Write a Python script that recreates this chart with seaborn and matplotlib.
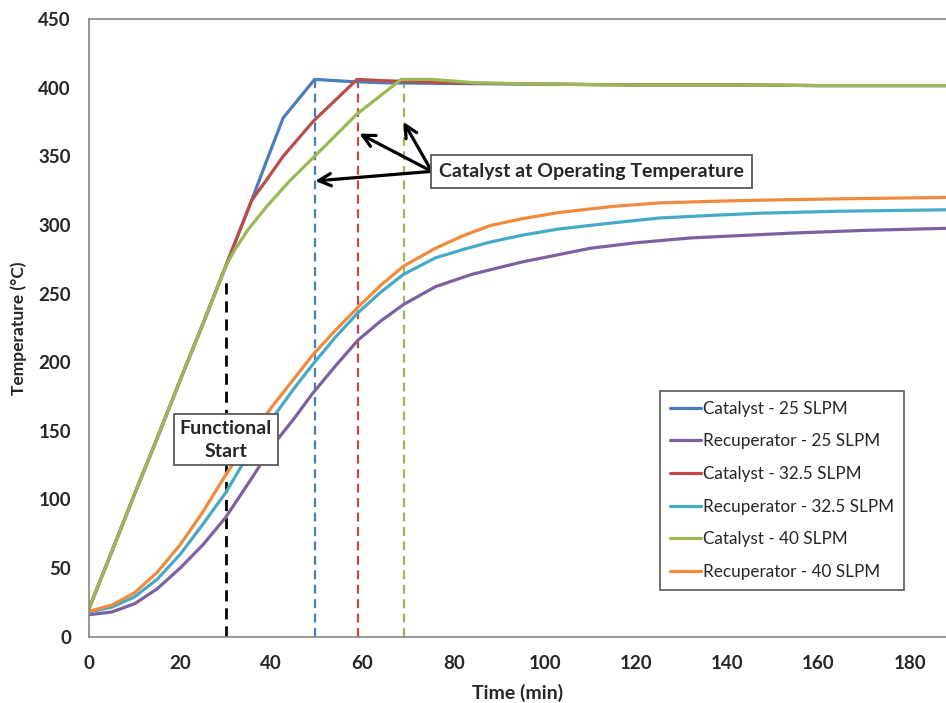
import matplotlib
matplotlib.use("Agg")
import matplotlib.pyplot as plt
import numpy as np
import pandas as pd
import seaborn as sns

# values (time in min, temperature in degC)
cat25_t = [0, 5, 10, 15, 20, 25, 30, 35.7, 39, 42.6, 49.5, 57, 65, 80, 100, 120, 140, 160, 188]
cat25_T = [20.5, 62, 104, 145, 187, 228, 270, 318, 347, 378, 406, 404.5, 403.5, 403, 402.5, 402, 402, 401.5, 401.5]

cat325_t = [0, 5, 10, 15, 20, 25, 30, 35.7, 39, 42.6, 49.2, 58.8, 65, 80, 100, 120, 140, 160, 188]
cat325_T = [20.5, 62, 104, 145, 187, 228, 270, 318, 333, 350, 375.5, 406, 405, 403.5, 402.5, 402, 402, 401.5, 401.5]

cat40_t = [0, 5, 10, 15, 20, 25, 30, 32, 35, 39, 44, 49.2, 58.7, 68.5, 75, 85, 100, 120, 140, 160, 188]
cat40_T = [20.5, 62, 104, 145, 187, 228, 270, 282, 297, 313.5, 332, 349, 380.5, 406, 406, 403.5, 402.5, 402, 402, 401.5, 401.5]

rec25_t = [0, 5, 10, 15, 20, 25, 30, 36, 40, 45, 49, 54, 59, 64, 69, 76, 84, 95, 110, 120, 132, 154, 170, 188]
rec25_T = [16, 18, 24, 35, 50, 67, 87, 117, 138, 159, 177, 197, 216, 230, 242, 255, 264, 273, 283, 287, 290.5, 294, 296, 297.5]

rec325_t = [0, 5, 10, 15, 20, 25, 30, 35, 40, 45, 49, 54, 59, 64, 69, 76, 82, 88, 95, 103, 115, 125, 137, 147, 165, 188]
rec325_T = [18, 21.5, 29, 42, 60, 82, 105, 133, 158, 181, 198, 218, 236, 251, 264, 276, 282, 287.5, 292.5, 297, 301.5, 305, 307, 308.5, 310, 311]

rec40_t = [0, 5, 10, 15, 20, 25, 30, 35, 40, 45, 49, 54, 59, 64, 69, 76, 82, 88, 95, 103, 115, 125, 137, 147, 165, 188]
rec40_T = [18.5, 23, 32, 47, 67, 91, 118, 143, 167, 188, 205, 223, 240, 256, 270, 283, 292, 299.5, 304.5, 309, 313.5, 316, 317.2, 318, 319, 320]

series_names = [
    "Catalyst - 25 SLPM",
    "Recuperator - 25 SLPM",
    "Catalyst - 32.5 SLPM",
    "Recuperator - 32.5 SLPM",
    "Catalyst - 40 SLPM",
    "Recuperator - 40 SLPM",
]
series_colors = ["#4A7EBB", "#7D60A0", "#BE4B48", "#46AAC5", "#98B954", "#F08A3C"]

# operating-temperature markers (dashed verticals)
op_times = [49.5, 59, 69]
op_tops = [406, 405, 405]
op_colors = ["#4A7EBB", "#BE4B48", "#98B954"]
start_time = 30
start_top = 262

series_data = [
    (cat25_t, cat25_T),
    (rec25_t, rec25_T),
    (cat325_t, cat325_T),
    (rec325_t, rec325_T),
    (cat40_t, cat40_T),
    (rec40_t, rec40_T),
]
frames = []
for name, (t, T) in zip(series_names, series_data):
    frames.append(pd.DataFrame({"time": t, "temp": T, "series": name}))
df = pd.concat(frames, ignore_index=True)

sns.set_style("white")
plt.rcParams["font.family"] = ["Lato", "DejaVu Sans"]

fig = plt.figure(figsize=(9.46, 7.03), dpi=100)
ax = fig.add_axes([89 / 946, (703 - 636.7) / 703, (946 - 89) / 946, (636.7 - 19) / 703])

sns.lineplot(
    data=df,
    x="time",
    y="temp",
    hue="series",
    hue_order=series_names,
    palette=series_colors,
    estimator=None,
    sort=False,
    linewidth=2.3,
    ax=ax,
)

# dashed verticals
ax.vlines(start_time, 0, start_top, colors="black", linestyles=(0, (4, 2.5)), linewidth=2.0, zorder=1)
for x, top, c in zip(op_times, op_tops, op_colors):
    ax.vlines(x, 0, top, colors=c, linestyles=(0, (4, 2.5)), linewidth=1.6, zorder=1)

ax.set_xlim(0, 188)
ax.set_ylim(0, 450)
ax.set_xticks(np.arange(0, 181, 20))
ax.set_yticks(np.arange(0, 451, 50))

spine_color = "#868686"
for side in ["left", "bottom", "top"]:
    ax.spines[side].set_color(spine_color)
    ax.spines[side].set_linewidth(1.2)
ax.spines["right"].set_visible(False)

ax.tick_params(axis="both", direction="inout", length=10, width=1.1, color=spine_color,
               labelsize=13.5, pad=8)
for lab in ax.get_xticklabels() + ax.get_yticklabels():
    lab.set_fontweight("bold")

ax.set_xlabel("Time (min)", fontsize=14, fontweight="bold", labelpad=9)
ax.set_ylabel("Temperature (°C)", fontsize=12.5, fontweight="bold", labelpad=8)

# annotations
box = dict(boxstyle="square,pad=0.4", facecolor="white", edgecolor="#595959", linewidth=1.3)
ax.text(110.2, 339, "Catalyst at Operating Temperature", ha="center", va="center",
        fontsize=14, fontweight="bold", bbox=box, zorder=6)
ax.text(30, 143.5, "Functional\nStart", ha="center", va="center", fontsize=14,
        fontweight="bold", linespacing=1.4, bbox=dict(box, boxstyle="square,pad=0.3"), zorder=6)

arrow_tail = (75.2, 339)
arrow_heads = [(49.6, 332), (59.3, 366.5), (69.0, 375)]
for head in arrow_heads:
    ax.annotate("", xy=head, xytext=arrow_tail,
                arrowprops=dict(arrowstyle="->", color="black", lw=2.3,
                                mutation_scale=22, shrinkA=0, shrinkB=0), zorder=5)

sns.move_legend(
    ax,
    loc="lower right",
    bbox_to_anchor=((904 - 89) / 857, (636.7 - 590) / 617.7),
    borderaxespad=0,
    title=None,
    frameon=True,
    fancybox=False,
    fontsize=12.3,
    handlelength=1.8,
    handletextpad=0.1,
    labelspacing=0.97,
    borderpad=0.6,
    edgecolor="#404040",
)
leg = ax.get_legend()
leg.get_frame().set_linewidth(1.3)

fig.savefig("out.png", dpi=100)
